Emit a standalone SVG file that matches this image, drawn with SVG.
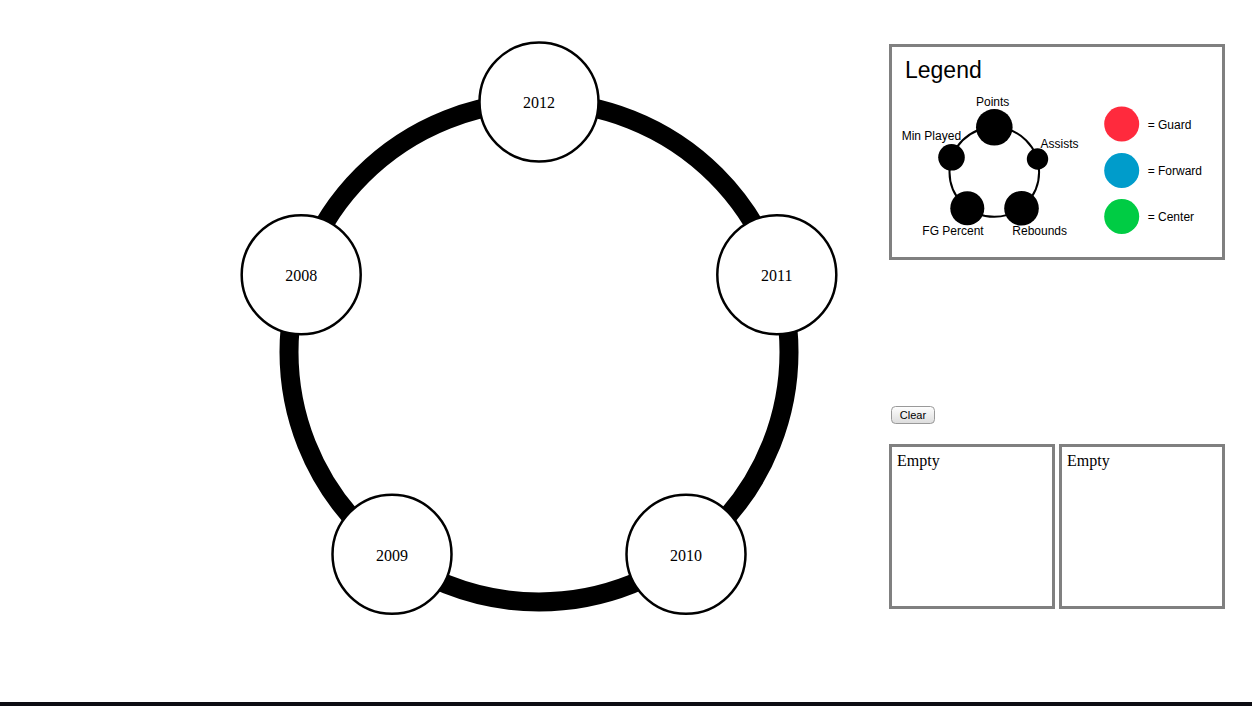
<svg xmlns="http://www.w3.org/2000/svg" width="1252" height="706" viewBox="0 0 1252 706">
<style>
.node circle{fill:#fff;stroke:#000;stroke-width:2.5}
.yr{font-family:"Liberation Serif",serif;font-size:16px;text-anchor:middle;fill:#000}
.box{fill:#fff;stroke:#808080;stroke-width:3}
.lbl{font-family:"Liberation Sans",Arial,sans-serif;font-size:12px;fill:#000}
.empty{font-family:"Liberation Serif",serif;font-size:16px;fill:#000}
.dot{fill:#000}
</style>
<defs>
<linearGradient id="btn" x1="0" y1="0" x2="0" y2="1">
<stop offset="0" stop-color="#ffffff"/>
<stop offset="1" stop-color="#dcdcdc"/>
</linearGradient>
</defs>
<rect width="1252" height="706" fill="#fff"/>
<g id="connectors">
<circle cx="539" cy="352" r="250" fill="none" stroke="#000" stroke-width="19"/>
</g>
<g id="node-2012" class="node"><circle cx="539" cy="102" r="59.5"/><text class="yr" x="539" y="108">2012</text></g>
<g id="node-2011" class="node"><circle cx="776.8" cy="274.7" r="59.5"/><text class="yr" x="776.8" y="281">2011</text></g>
<g id="node-2010" class="node"><circle cx="686" cy="554.3" r="59.5"/><text class="yr" x="686" y="560.5">2010</text></g>
<g id="node-2009" class="node"><circle cx="392" cy="554.3" r="59.5"/><text class="yr" x="392" y="560.5">2009</text></g>
<g id="node-2008" class="node"><circle cx="301.2" cy="274.7" r="59.5"/><text class="yr" x="301.2" y="281">2008</text></g>
<g id="legend">
<rect class="box" x="890.5" y="45.5" width="333" height="213"/>
<text x="905" y="78" font-family="'Liberation Sans',Arial,sans-serif" font-size="23px" fill="#000">Legend</text>
<circle cx="994.3" cy="172" r="44.8" fill="none" stroke="#000" stroke-width="2"/>
<circle class="dot" cx="994.3" cy="127.3" r="18.3"/>
<circle class="dot" cx="1037.5" cy="159" r="10.7"/>
<circle class="dot" cx="1021.5" cy="208.3" r="17.3"/>
<circle class="dot" cx="967.3" cy="208.3" r="17"/>
<circle class="dot" cx="951.5" cy="157.3" r="13.3"/>
<text class="lbl" x="992.7" y="105.5" text-anchor="middle">Points</text>
<text class="lbl" x="901.7" y="139.5">Min Played</text>
<text class="lbl" x="1040.5" y="147.5">Assists</text>
<text class="lbl" x="922.3" y="235">FG Percent</text>
<text class="lbl" x="1012.3" y="235">Rebounds</text>
<circle cx="1121.7" cy="124" r="17.5" fill="#ff2a3d"/>
<circle cx="1121.7" cy="170.5" r="17.5" fill="#009ccb"/>
<circle cx="1121.7" cy="216.5" r="17.5" fill="#00cc44"/>
<text class="lbl" x="1147.7" y="129">= Guard</text>
<text class="lbl" x="1147.7" y="175">= Forward</text>
<text class="lbl" x="1147.7" y="221">= Center</text>
</g>
<g id="clear-button">
<rect x="891.5" y="406.5" width="43" height="17" rx="4" fill="url(#btn)" stroke="#999" stroke-width="1"/>
<text x="913" y="419" text-anchor="middle" font-family="'Liberation Sans',Arial,sans-serif" font-size="11px" fill="#000">Clear</text>
</g>
<g id="panel-1">
<rect class="box" x="890.5" y="445.5" width="163" height="162"/>
<text class="empty" x="897" y="466">Empty</text>
</g>
<g id="panel-2">
<rect class="box" x="1060.5" y="445.5" width="163" height="162"/>
<text class="empty" x="1067" y="466">Empty</text>
</g>
<rect x="0" y="702" width="1252" height="4" fill="#0d0d12"/>
</svg>
